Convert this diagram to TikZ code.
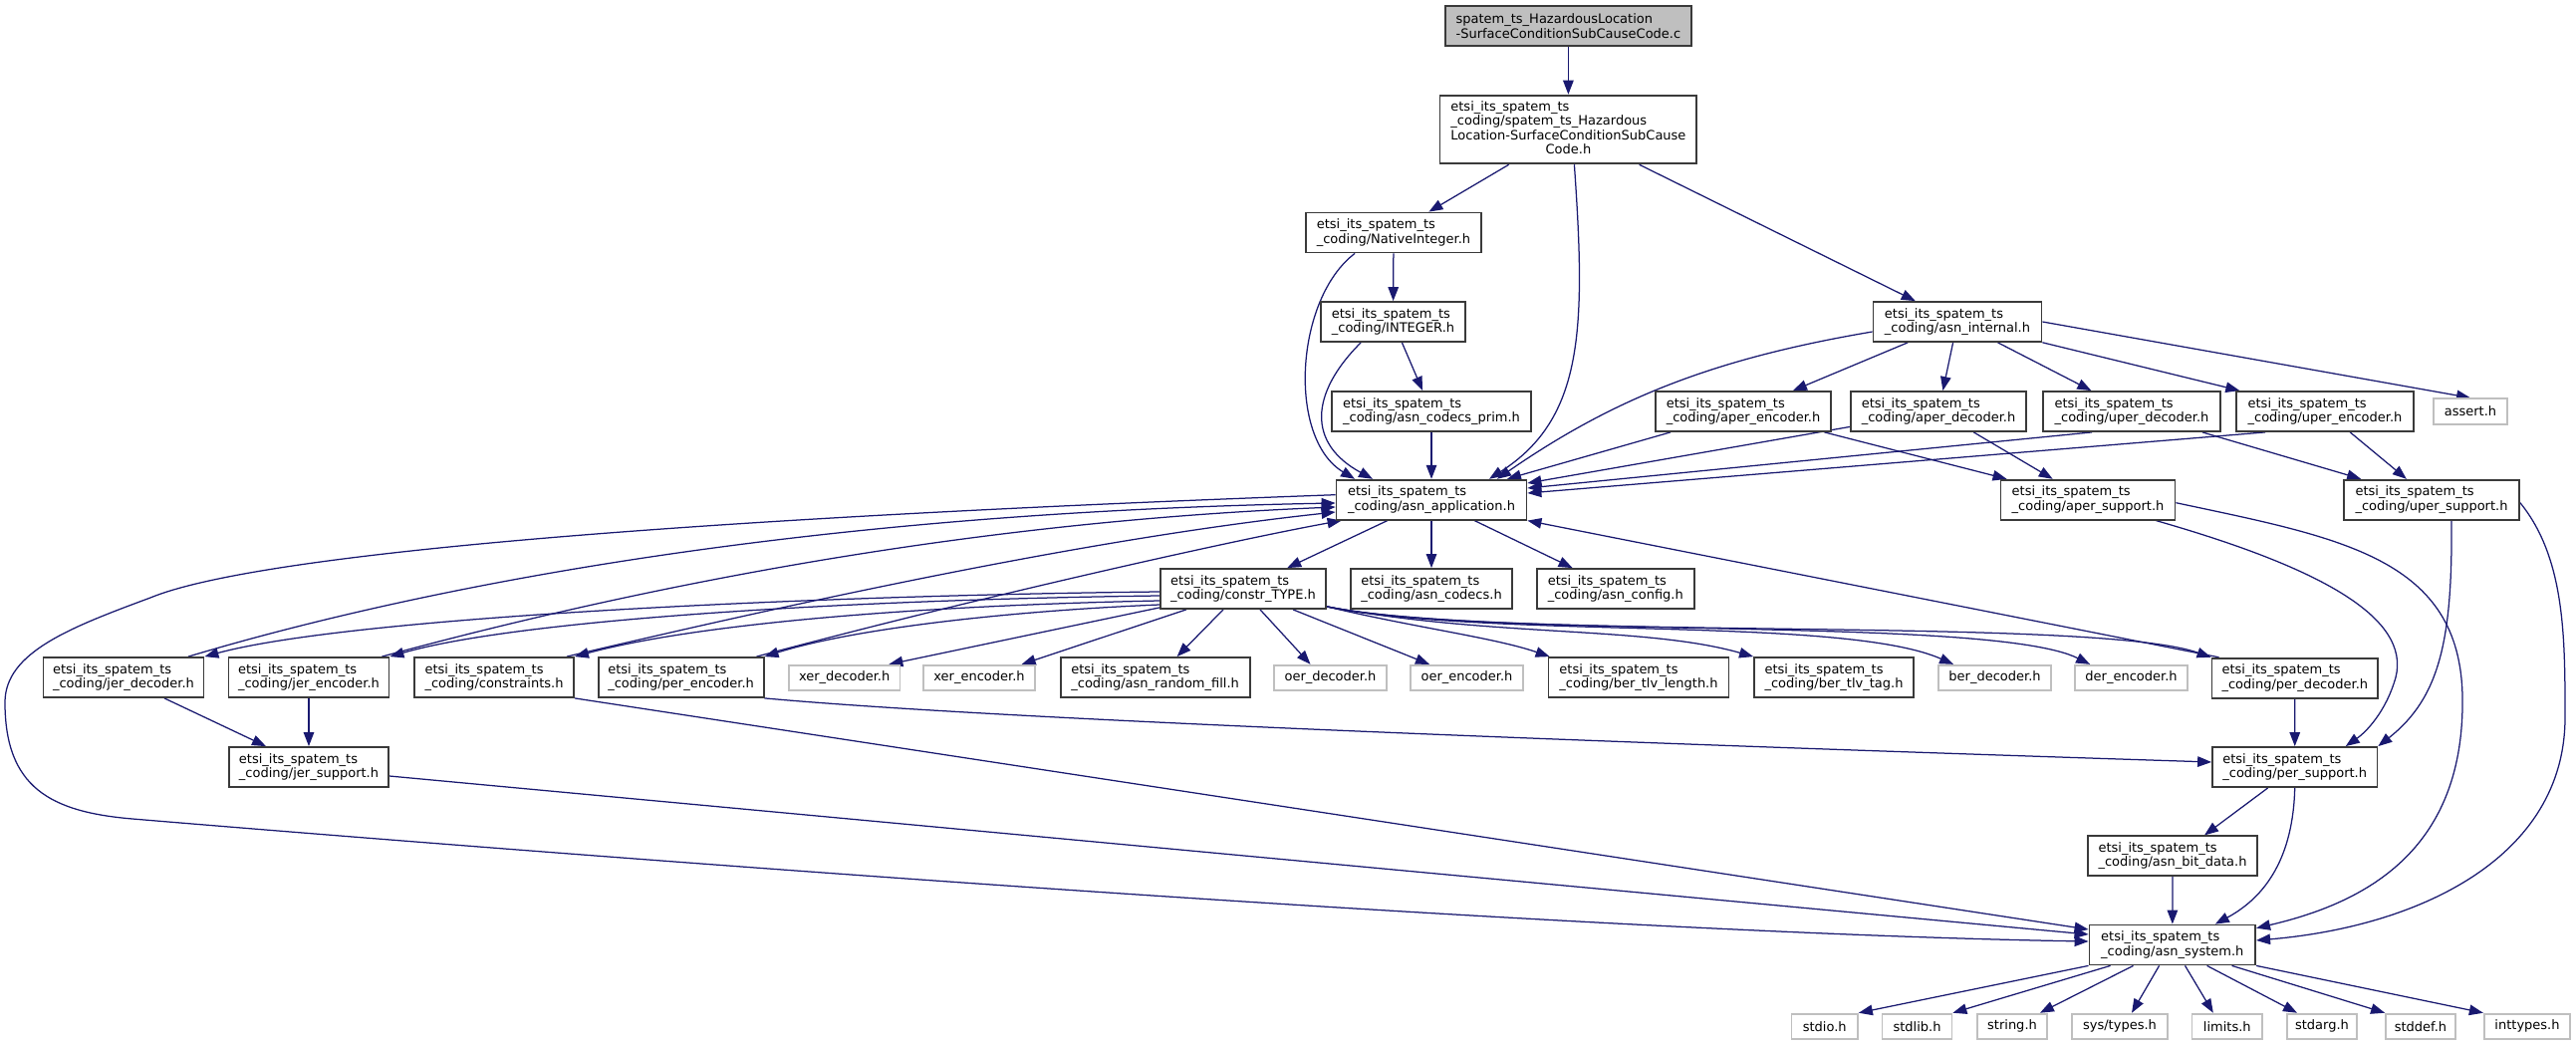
\documentclass[tikz,border=0pt]{standalone}
\usepackage{fontspec}
\setmainfont{DejaVu Sans}
\usetikzlibrary{arrows.meta,backgrounds}
\definecolor{edgeblue}{HTML}{191970}
\definecolor{leafgray}{HTML}{BFBFBF}
\definecolor{boxline}{HTML}{3A3A3A}
\newcommand\nodefont{\fontsize{13}{14.4}\selectfont}
\begin{document}
\begin{tikzpicture}[x=1pt,y=-1pt,
  box/.style={draw=boxline,line width=1.8pt,fill=white,font=\nodefont,align=left,inner sep=0pt,minimum height=40pt},
  leaf/.style={draw=leafgray,line width=1.8pt,fill=white,font=\nodefont,inner sep=0pt,minimum height=25.5pt},
  dep/.style={draw=edgeblue,line width=1.25pt,-{Triangle[length=14pt,width=10.5pt]}}]
\useasboundingbox (0,0) rectangle (2586,1049);
% nodes
\node[box,fill=leafgray,minimum width=247pt] (top) at (1574.4,26) {spatem\_ts\_HazardousLocation\\-SurfaceConditionSubCauseCode.c};
\node[box,minimum width=257.7pt,minimum height=68.7pt] (n1) at (1574.4,130) {\begin{tabular}{@{}l@{}}etsi\_its\_spatem\_ts\\\_coding/spatem\_ts\_Hazardous\\Location-SurfaceConditionSubCause\\\multicolumn{1}{@{}c@{}}{Code.h}\end{tabular}};
\node[box,minimum width=176pt] (nat) at (1399,233.5) {etsi\_its\_spatem\_ts\\\_coding/NativeInteger.h};
\node[box,minimum width=145pt] (integer) at (1398.5,323) {etsi\_its\_spatem\_ts\\\_coding/INTEGER.h};
\node[box,minimum width=200pt] (prim) at (1437,413) {etsi\_its\_spatem\_ts\\\_coding/asn\_codecs\_prim.h};
\node[box,minimum width=191pt] (app) at (1437,501.7) {etsi\_its\_spatem\_ts\\\_coding/asn\_application.h};
\node[box,minimum width=169pt] (internal) at (1965,323) {etsi\_its\_spatem\_ts\\\_coding/asn\_internal.h};
\node[box,minimum width=176pt] (aenc) at (1750,413) {etsi\_its\_spatem\_ts\\\_coding/aper\_encoder.h};
\node[box,minimum width=176pt] (adec) at (1946,413) {etsi\_its\_spatem\_ts\\\_coding/aper\_decoder.h};
\node[box,minimum width=178pt] (udec) at (2140,413) {etsi\_its\_spatem\_ts\\\_coding/uper\_decoder.h};
\node[box,minimum width=178pt] (uenc) at (2334,413) {etsi\_its\_spatem\_ts\\\_coding/uper\_encoder.h};
\node[leaf,minimum width=74.5pt] (assert) at (2480,413) {assert.h};
\node[box,minimum width=175pt] (asup) at (2096,501.7) {etsi\_its\_spatem\_ts\\\_coding/aper\_support.h};
\node[box,minimum width=176pt] (usup) at (2441,501.7) {etsi\_its\_spatem\_ts\\\_coding/uper\_support.h};
\node[box,minimum width=166pt] (ctype) at (1248,591) {etsi\_its\_spatem\_ts\\\_coding/constr\_TYPE.h};
\node[box,minimum width=162pt] (codecs) at (1437,591) {etsi\_its\_spatem\_ts\\\_coding/asn\_codecs.h};
\node[box,minimum width=157.6pt] (config) at (1621.8,591) {etsi\_its\_spatem\_ts\\\_coding/asn\_config.h};
\node[box,minimum width=161pt] (jdec) at (124,680) {etsi\_its\_spatem\_ts\\\_coding/jer\_decoder.h};
\node[box,minimum width=161pt] (jenc) at (310,680) {etsi\_its\_spatem\_ts\\\_coding/jer\_encoder.h};
\node[box,minimum width=160pt] (constr) at (496,680) {etsi\_its\_spatem\_ts\\\_coding/constraints.h};
\node[box,minimum width=166pt] (penc) at (683.6,680) {etsi\_its\_spatem\_ts\\\_coding/per\_encoder.h};
\node[leaf,minimum width=111.5pt] (xdec) at (847.7,680.5) {xer\_decoder.h};
\node[leaf,minimum width=111.5pt] (xenc) at (983,680.5) {xer\_encoder.h};
\node[box,minimum width=190pt] (rfill) at (1159.6,680) {etsi\_its\_spatem\_ts\\\_coding/asn\_random\_fill.h};
\node[leaf,minimum width=113pt] (odec) at (1335.5,680.5) {oer\_decoder.h};
\node[leaf,minimum width=113pt] (oenc) at (1472.5,680.5) {oer\_encoder.h};
\node[box,minimum width=181pt] (tlvlen) at (1645,680) {etsi\_its\_spatem\_ts\\\_coding/ber\_tlv\_length.h};
\node[box,minimum width=160pt] (tlvtag) at (1841,680) {etsi\_its\_spatem\_ts\\\_coding/ber\_tlv\_tag.h};
\node[leaf,minimum width=113pt] (bdec) at (2002.5,680.5) {ber\_decoder.h};
\node[leaf,minimum width=113pt] (denc) at (2139.5,680.5) {der\_encoder.h};
\node[box,minimum width=166.7pt] (pdec) at (2303.8,680.7) {etsi\_its\_spatem\_ts\\\_coding/per\_decoder.h};
\node[box,minimum width=160pt] (jsup) at (310,770) {etsi\_its\_spatem\_ts\\\_coding/jer\_support.h};
\node[box,minimum width=165.4pt] (psup) at (2303.7,770) {etsi\_its\_spatem\_ts\\\_coding/per\_support.h};
\node[box,minimum width=170.4pt] (bitdata) at (2181,859.3) {etsi\_its\_spatem\_ts\\\_coding/asn\_bit\_data.h};
\node[box,minimum width=166.7pt] (system) at (2180.8,948.5) {etsi\_its\_spatem\_ts\\\_coding/asn\_system.h};
\node[leaf,minimum width=66.5pt] (stdio) at (1831.7,1030.4) {stdio.h};
\node[leaf,minimum width=70pt] (stdlib) at (1924.5,1030.4) {stdlib.h};
\node[leaf,minimum width=70pt] (string) at (2020,1030.4) {string.h};
\node[leaf,minimum width=96pt] (systypes) at (2128,1030.4) {sys/types.h};
\node[leaf,minimum width=70.5pt] (limits) at (2235.8,1030.4) {limits.h};
\node[leaf,minimum width=70pt] (stdarg) at (2331,1030.4) {stdarg.h};
\node[leaf,minimum width=70pt] (stddef) at (2430,1030.4) {stddef.h};
\node[leaf,minimum width=86.5pt] (inttypes) at (2537,1030.4) {inttypes.h};
% edges
\begin{scope}[on background layer]
\fill[white] (0,0) rectangle (2586,1049);
\draw[dep] (top) -- (n1);
\draw[dep] (n1) -- (nat);
\draw[dep] (n1) -- (internal);
\draw[dep] ([xshift=6pt]n1.south) .. controls (1592,330) and (1590,420) .. ([xshift=58pt]app.north);
\draw[dep] (nat) -- (integer);
\draw[dep] ([xshift=50pt]nat.south west) .. controls (1300,300) and (1292,440) .. ([xshift=-77pt]app.north);
\draw[dep] (integer) -- (prim);
\draw[dep] ([xshift=41pt]integer.south west) .. controls (1315,395) and (1312,445) .. ([xshift=-59pt]app.north);
\draw[dep] (prim) -- (app);
\draw[dep] ([yshift=-10pt]internal.west) .. controls (1720,360) and (1620,400) .. ([xshift=66pt]app.north);
\draw[dep] (internal) -- (aenc);
\draw[dep] (internal) -- (adec);
\draw[dep] (internal) -- (udec);
\draw[dep] (internal) -- (uenc);
\draw[dep] (internal.east) -- (assert.north);
\draw[dep] (aenc) -- ([xshift=76pt]app.north);
\draw[dep] (adec) -- ([yshift=16.7pt]app.east);
\draw[dep] ([xshift=-40pt]udec.south) -- ([yshift=11.7pt]app.east);
\draw[dep] ([xshift=-60pt]uenc.south) -- ([yshift=6.7pt]app.east);
\draw[dep] (aenc) -- (asup);
\draw[dep] (adec) -- (asup);
\draw[dep] (udec) -- (usup);
\draw[dep] (uenc) -- (usup);
\draw[dep] (app) -- (ctype);
\draw[dep] (app) -- (codecs);
\draw[dep] (app) -- (config);
% big curve app -> system
\draw[dep] ([yshift=5pt]app.west) .. controls (700,520) and (260,555) .. (151,600) .. controls (70,630) and (5,655) .. (5,705) .. controls (5,790) and (50,815) .. (133,822) .. controls (300,836) and (1500,935) .. ([yshift=3.5pt]system.west);
% constr_TYPE fan-out to the left
\draw[dep] ([yshift=-3pt]ctype.west) .. controls (800,598) and (350,620) .. (jdec.north east);
\draw[dep] ([yshift=-7pt]ctype.west) .. controls (850,602) and (520,622) .. (jenc.north east);
\draw[dep] ([yshift=-12pt]ctype.west) .. controls (920,608) and (700,626) .. (constr.north east);
\draw[dep] ([yshift=-16pt]ctype.west) .. controls (1020,613) and (860,630) .. (penc.north east);
\draw[dep] ([yshift=2pt]ctype.south west) -- ([xshift=-12pt]xdec.north east);
\draw[dep] ([xshift=-57pt]ctype.south) -- ([xshift=-14pt]xenc.north east);
\draw[dep] ([xshift=-20pt]ctype.south) -- ([xshift=22pt]rfill.north);
\draw[dep] ([xshift=17pt]ctype.south) -- ([xshift=-20pt]odec.north);
\draw[dep] ([xshift=50pt]ctype.south) -- ([xshift=-37.5pt]oenc.north);
% constr_TYPE fan-out to the right
\draw[dep] ([yshift=3pt]ctype.south east) .. controls (1420,630) and (1500,640) .. ([xshift=2pt]tlvlen.north west);
\draw[dep] ([yshift=3pt]ctype.south east) .. controls (1500,640) and (1650,628) .. (tlvtag.north west);
\draw[dep] ([yshift=3pt]ctype.south east) .. controls (1500,642) and (1850,618) .. ([xshift=16pt]bdec.north west);
\draw[dep] ([yshift=3pt]ctype.south east) .. controls (1500,642) and (2000,618) .. ([xshift=16pt]denc.north west);
\draw[dep] ([yshift=3pt]ctype.south east) .. controls (1500,644) and (2100,618) .. (pdec.north west);
% back edges to asn_application
\draw[dep] ([xshift=65pt]jdec.north) .. controls (420,590) and (800,515) .. ([yshift=-3.3pt]app.west);
\draw[dep] ([xshift=-8pt]jenc.north east) .. controls (620,595) and (950,525) .. ([yshift=-7.3pt]app.west);
\draw[dep] ([xshift=-8pt]constr.north east) .. controls (820,600) and (1100,540) .. ([yshift=-12.3pt]app.west);
\draw[dep] ([xshift=-8pt]penc.north east) .. controls (1000,595) and (1250,540) .. ([xshift=6pt]app.south west);
\draw[dep] ([xshift=8pt]pdec.north west) -- (app.south east);
% jer
\draw[dep] ([xshift=41pt]jdec.south) -- ([xshift=-43pt]jsup.north);
\draw[dep] (jenc) -- (jsup);
\draw[dep] ([yshift=-9pt]jsup.east) -- ([yshift=10.5pt]system.west);
\draw[dep] (constr.south east) -- ([yshift=15.5pt]system.west);
\draw[dep] (penc.south east) .. controls (1000,722) and (1600,745) .. ([yshift=5pt]psup.west);
% per
\draw[dep] (pdec) -- (psup);
\draw[dep] ([xshift=-20pt]asup.south east) .. controls (2330,570) and (2420,620) .. (2405,680) .. controls (2395,715) and (2375,735) .. ([xshift=51pt]psup.north);
\draw[dep] ([xshift=20pt]usup.south) .. controls (2462,640) and (2450,700) .. (psup.north east);
\draw[dep] ([yshift=-3pt]asup.east) .. controls (2350,540) and (2470,560) .. (2472,700) .. controls (2474,850) and (2380,905) .. ([yshift=16.8pt]system.east);
\draw[dep] ([yshift=-3pt]usup.east) .. controls (2575,560) and (2575,640) .. (2575,720) .. controls (2575,860) and (2430,930) .. ([yshift=4.5pt]system.east);
\draw[dep] ([xshift=-27pt]psup.south) -- ([xshift=32pt]bitdata.north);
\draw[dep] (psup.south) .. controls (2302,860) and (2275,900) .. ([xshift=43pt]system.north);
\draw[dep] (bitdata) -- (system);
% system leaves
\draw[dep] (system.south west) -- (stdio.north east);
\draw[dep] ([xshift=22pt]system.south west) -- (stdlib.north east);
\draw[dep] ([xshift=45pt]system.south west) -- ([xshift=-8pt]string.north east);
\draw[dep] ([xshift=71pt]system.south west) -- ([xshift=12pt]systypes.north);
\draw[dep] ([xshift=97pt]system.south west) -- ([xshift=-14pt]limits.north);
\draw[dep] ([xshift=119pt]system.south west) -- ([xshift=-25pt]stdarg.north);
\draw[dep] ([xshift=144pt]system.south west) -- (stddef.north west);
\draw[dep] (system.south east) -- (inttypes.north west);
\end{scope}
\end{tikzpicture}
\end{document}
